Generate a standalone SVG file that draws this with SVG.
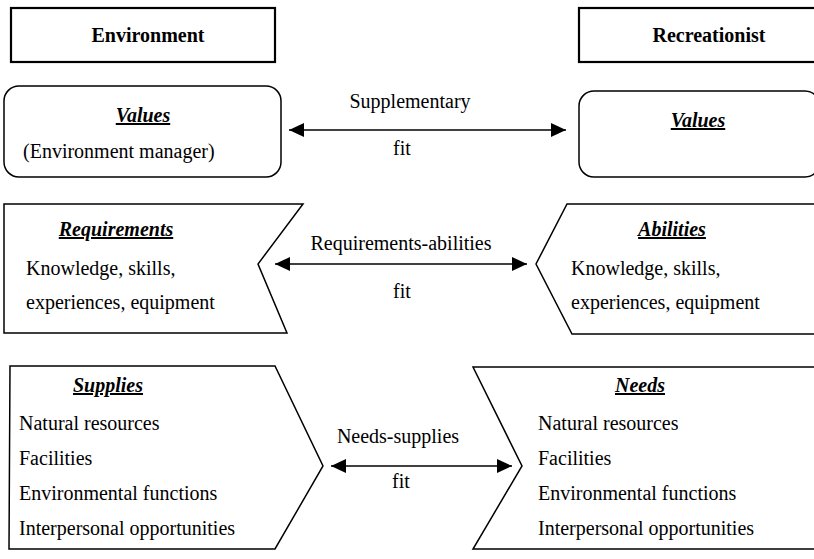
<svg xmlns="http://www.w3.org/2000/svg" width="814" height="559" viewBox="0 0 814 559">
<style>
text{font-family:"Liberation Serif","Times New Roman",serif;font-size:20px;fill:#000}
.h{font-weight:bold;text-anchor:middle}
.t{font-weight:bold;font-style:italic;text-decoration:underline;text-anchor:middle}
.c{text-anchor:middle}
.hdr{fill:#fff;stroke:#000;stroke-width:2.2}
.shp{fill:#fff;stroke:#000;stroke-width:1.5}
.con line{stroke:#000;stroke-width:1.5}
</style>
<defs>
<marker id="ah" viewBox="0 0 15 14" refX="15" refY="7" markerWidth="15" markerHeight="14" orient="auto-start-reverse" markerUnits="userSpaceOnUse"><path d="M0,0 L15,7 L0,14 Z" fill="#000"/></marker>
</defs>
<rect width="814" height="559" fill="#fff"/>
<g id="environment">
<rect class="hdr" x="11" y="8" width="264" height="54"/>
<text class="h" x="148" y="42">Environment</text>
</g>
<g id="recreationist">
<rect class="hdr" x="579" y="8" width="260" height="54"/>
<text class="h" x="709" y="42">Recreationist</text>
</g>
<g id="values-env">
<rect class="shp" x="4" y="86" width="277" height="91" rx="15" ry="15"/>
<text class="t" x="143" y="122">Values</text>
<text x="23" y="158">(Environment manager)</text>
</g>
<g id="values-rec">
<rect class="shp" x="579" y="91" width="241" height="86" rx="15" ry="15"/>
<text class="t" x="698" y="127">Values</text>
</g>
<g id="requirements">
<polygon class="shp" points="4,204 303,204 258,264 287,333 4,333"/>
<text class="t" x="116" y="236">Requirements</text>
<text x="26" y="275">Knowledge, skills,</text>
<text x="26" y="309">experiences, equipment</text>
</g>
<g id="abilities">
<polygon class="shp" points="567,204 830,204 830,334 572,334 536,264"/>
<text class="t" x="672" y="236">Abilities</text>
<text x="571" y="275">Knowledge, skills,</text>
<text x="571" y="309">experiences, equipment</text>
</g>
<g id="supplies">
<polygon class="shp" points="10,366 275,366 323,466 275,549 9,549"/>
<text class="t" x="108" y="392">Supplies</text>
<text x="19" y="430">Natural resources</text>
<text x="19" y="465">Facilities</text>
<text x="19" y="500">Environmental functions</text>
<text x="19" y="535">Interpersonal opportunities</text>
</g>
<g id="needs">
<polygon class="shp" points="473,367 830,367 830,549 473,549 522,466"/>
<text class="t" x="640" y="392">Needs</text>
<text x="538" y="430">Natural resources</text>
<text x="538" y="465">Facilities</text>
<text x="538" y="500">Environmental functions</text>
<text x="538" y="535">Interpersonal opportunities</text>
</g>
<g id="connectors" class="con">
<line x1="289" y1="130" x2="566" y2="130" marker-start="url(#ah)" marker-end="url(#ah)"/>
<line x1="275" y1="264" x2="527" y2="264" marker-start="url(#ah)" marker-end="url(#ah)"/>
<line x1="331" y1="466" x2="512" y2="466" marker-start="url(#ah)" marker-end="url(#ah)"/>
<text class="c" x="410" y="108">Supplementary</text>
<text class="c" x="402" y="155">fit</text>
<text class="c" x="401" y="250">Requirements-abilities</text>
<text class="c" x="402" y="298">fit</text>
<text class="c" x="398" y="443">Needs-supplies</text>
<text class="c" x="401" y="488">fit</text>
</g>
</svg>
